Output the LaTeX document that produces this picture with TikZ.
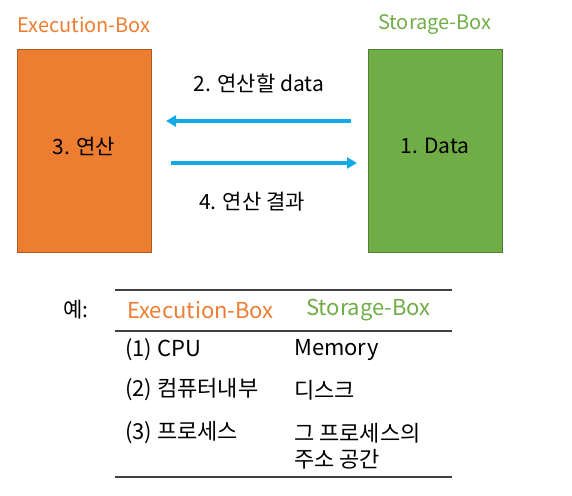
\documentclass[tikz,border=0pt]{standalone}
\usepackage{fontspec}
\setmainfont{Noto Sans CJK KR}
\usetikzlibrary{arrows.meta,positioning}
\definecolor{execOrange}{HTML}{ED7D31}
\definecolor{execEdge}{HTML}{AE5A21}
\definecolor{storeGreen}{HTML}{70AD47}
\definecolor{storeEdge}{HTML}{507E32}
\definecolor{flowBlue}{HTML}{12A9E6}
\definecolor{ruleGray}{HTML}{404040}

\begin{document}
\begin{tikzpicture}[x=1pt, y=-1pt,
    txt/.style={font=\fontsize{21}{25}\selectfont, inner sep=0pt},
    head/.style={font=\fontsize{20}{24}\selectfont, inner sep=0pt},
    box/.style={draw, line width=0.8pt, minimum width=134pt, minimum height=203pt, inner sep=0pt},
    flow/.style={-{Triangle[length=10pt, width=11pt]}, line width=3.5pt, color=flowBlue},
    cell/.style={font=\fontsize{22}{26}\selectfont, inner sep=0pt, anchor=west},
    tabrule/.style={draw=ruleGray, line width=1.2pt}
  ]
    \useasboundingbox (0,0) rectangle (572,495);
    % top part
    \node[box, fill=execOrange, draw=execEdge] (exec) at (84,150.5) {};
    \node[box, fill=storeGreen, draw=storeEdge] (store) at (435,150.5) {};
    \node[txt] (execval) at (84,146) {3. 연산};
    \node[txt] (storeval) at (435,146) {1. Data};
    \node[head, text=execOrange] (execlbl) at (84,25) {Execution-Box};
    \node[head, text=storeGreen] (storelbl) at (435,25) {Storage-Box};
    \coordinate (fetchstart) at (351,121);
    \coordinate (fetchend) at (166,121);
    \coordinate (backstart) at (171,163);
    \coordinate (backend) at (357,163);
    \draw[flow] (fetchstart) -- (fetchend);
    \draw[flow] (backstart) -- (backend);
    \node[txt] (fetchlbl) at (259,83) {2. 연산할 data};
    \node[txt] (backlbl) at (252,202) {4. 연산 결과};
    % example table
    \node[txt] (ex) at (76,310) {예:};
    \draw[tabrule] (115,290) -- (452,290);
    \draw[tabrule] (115,331) -- (452,331);
    \draw[tabrule] (115,477) -- (452,477);
    \node[cell, text=execOrange] (hexec) at (127,310) {Execution-Box};
    \node[cell, text=storeGreen] (hstore) at (306,310) {Storage-Box};
    \node[cell] (rowa) at (125,350) {(1) CPU};
    \node[cell] (rowaval) at (294,350) {Memory};
    \node[cell] (rowb) at (125,390) {(2) 컴퓨터내부};
    \node[cell] (rowbval) at (294,390) {디스크};
    \node[cell] (rowc) at (125,433) {(3) 프로세스};
    \node[cell] (rowcval) at (294,433) {그 프로세스의};
    \node[cell, below=6pt of rowcval.south west, anchor=north west] (rowcvalb) {주소 공간};
  \end{tikzpicture}
\end{document}
